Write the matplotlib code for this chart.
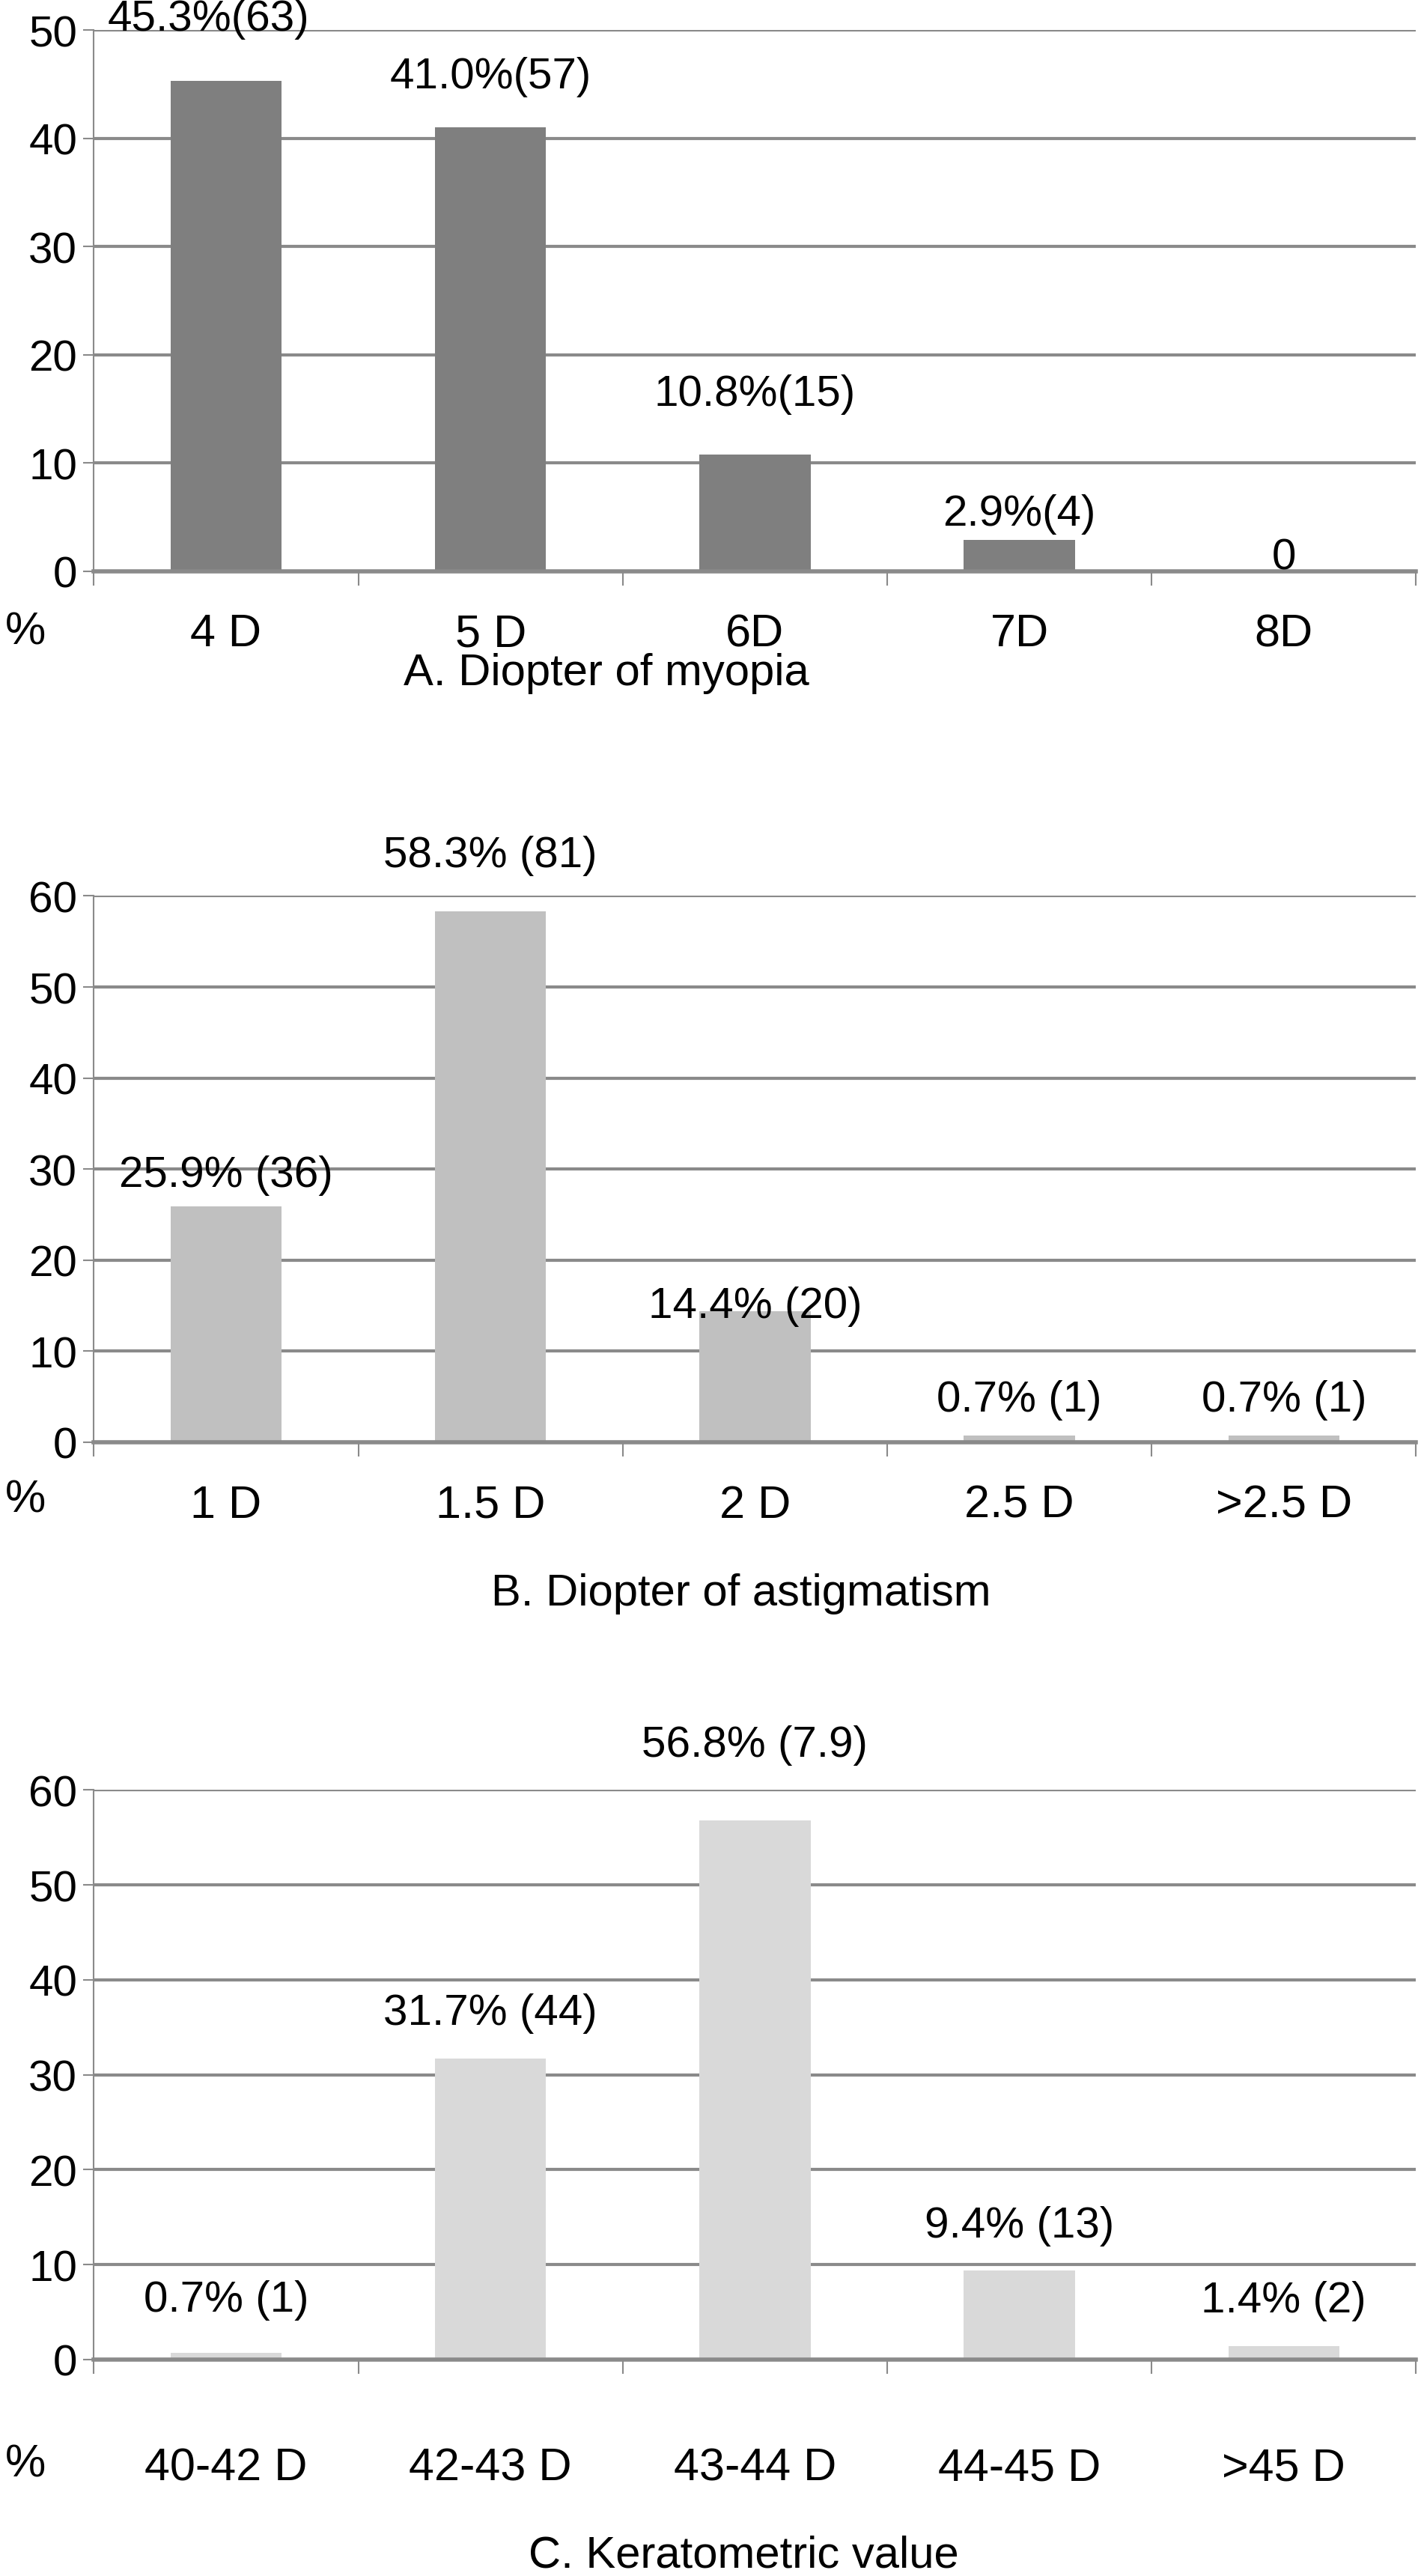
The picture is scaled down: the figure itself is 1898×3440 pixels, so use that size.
import numpy as np
import matplotlib
matplotlib.use("Agg")
import matplotlib.pyplot as plt

plt.rcParams['font.family'] = ['Liberation Sans', 'DejaVu Sans']

# Panel A: diopter of myopia
cats_a = ["4 D", "5 D", "6D", "7D", "8D"]
vals_a = [45.3, 41.0, 10.8, 2.9, 0.0]
labels_a = ["45.3%(63)", "41.0%(57)", "10.8%(15)", "2.9%(4)", "0"]

# Panel B: diopter of astigmatism
cats_b = ["1 D", "1.5 D", "2 D", "2.5 D", ">2.5 D"]
vals_b = [25.9, 58.3, 14.4, 0.7, 0.7]
labels_b = ["25.9% (36)", "58.3% (81)", "14.4% (20)", "0.7% (1)", "0.7% (1)"]

# Panel C: keratometric value
cats_c = ["40-42 D", "42-43 D", "43-44 D", "44-45 D", ">45 D"]
vals_c = [0.7, 31.7, 56.8, 9.4, 1.4]
labels_c = ["0.7% (1)", "31.7% (44)", "56.8% (7.9)", "9.4% (13)", "1.4% (2)"]

# label offsets (points) - labels were hand placed in the original
off_a = [(-17, 60), (0, 49), (0, 58), (0, 25), (0, 13)]
off_b = [(0, 30), (0, 54), (0, 5), (0, 35), (0, 35)]
off_c = [(0, 51), (0, 44), (0, 73), (0, 43), (0, 44)]

GRID = "#8a8a8a"
FS = 42


def draw_panel(ax, cats, vals, labels, offs, color, ymax, pad):
    x = np.arange(len(cats))
    ax.bar(x, vals, width=0.42, color=color, zorder=3)
    ax.set_xlim(-0.5, len(cats) - 0.5)
    ax.set_ylim(0, ymax)
    ax.set_yticks(np.arange(0, ymax + 1, 10))
    ax.yaxis.grid(True, color=GRID, linewidth=3, zorder=0)
    ax.set_axisbelow(True)
    for s in ["top", "right"]:
        ax.spines[s].set_visible(False)
    ax.spines["left"].set_color(GRID)
    ax.spines["left"].set_linewidth(1.5)
    ax.spines["bottom"].set_color(GRID)
    ax.spines["bottom"].set_linewidth(4)
    ax.spines["bottom"].set_zorder(4)
    ax.set_xticks(x)
    ax.set_xticklabels(cats, fontsize=44)
    ax.set_xticks(np.arange(-0.5, len(cats)), minor=True)
    ax.tick_params(axis="x", which="major", length=0, pad=pad)
    ax.tick_params(axis="x", which="minor", length=14, width=1.5, color=GRID)
    ax.tick_params(axis="y", labelsize=FS, length=10, width=1.5, color=GRID, pad=6)
    for xi, v, lab, o in zip(x, vals, labels, offs):
        ax.annotate(lab, (xi, v), xytext=o, textcoords="offset points",
                    ha="center", va="center", fontsize=FS, zorder=5,
                    annotation_clip=False)


fig = plt.figure(figsize=(18.99, 34.41), dpi=100)

ax_a = fig.add_axes([0.066, 0.778, 0.930, 0.210])
draw_panel(ax_a, cats_a, vals_a, labels_a, off_a, "#7f7f7f", 50, 40)

ax_b = fig.add_axes([0.066, 0.440, 0.930, 0.212])
draw_panel(ax_b, cats_b, vals_b, labels_b, off_b, "#c0c0c0", 60, 40)

ax_c = fig.add_axes([0.066, 0.084, 0.930, 0.221])
draw_panel(ax_c, cats_c, vals_c, labels_c, off_c, "#d9d9d9", 60, 84)

# "%" markers and panel captions
fig.text(0.018, 1 - 845 / 3441, "%", fontsize=44, ha="center", va="center")
fig.text(0.018, 1 - 2004 / 3441, "%", fontsize=44, ha="center", va="center")
fig.text(0.018, 1 - 3292 / 3441, "%", fontsize=44, ha="center", va="center")

fig.text(810 / 1899, 1 - 900 / 3441, "A. Diopter of myopia", fontsize=43, ha="center", va="center")
fig.text(990 / 1899, 1 - 2129 / 3441, "B. Diopter of astigmatism", fontsize=43, ha="center", va="center")
fig.text(993 / 1899, 1 - 3413 / 3441, "C. Keratometric value", fontsize=43, ha="center", va="center")

fig.savefig("out.png", dpi=100, facecolor="white")
